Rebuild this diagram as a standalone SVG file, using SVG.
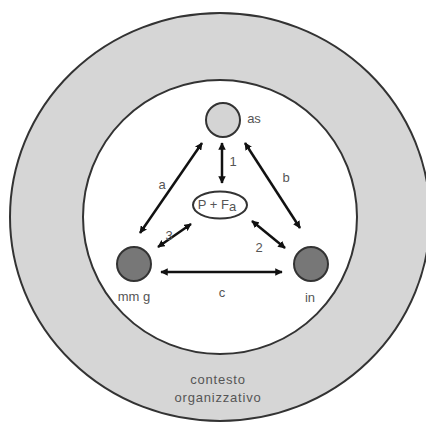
<svg xmlns="http://www.w3.org/2000/svg" width="426" height="422" viewBox="0 0 426 422">
<defs>
<style>
.ring{stroke:#333;stroke-width:2}
.node{stroke:#333;stroke-width:2}
.lbl{font-family:"Liberation Sans",Arial,sans-serif;font-size:13px;fill:#555;text-anchor:middle}
.edge{stroke:#111;stroke-width:2.5;fill:none;marker-start:url(#ah);marker-end:url(#ah)}
</style>
<marker id="ah" viewBox="0 0 10 10" refX="9" refY="5" markerWidth="3" markerHeight="3" orient="auto-start-reverse" markerUnits="strokeWidth">
<path d="M0,0 L10,5 L0,10 z" fill="#111"/>
</marker>
</defs>
<rect width="426" height="422" fill="#fff"/>
<g id="contesto">
<ellipse class="ring" cx="220" cy="217" rx="210" ry="204" fill="#d6d6d6"/>
<circle class="ring" cx="220" cy="217" r="137" fill="#fff"/>
<text class="lbl" x="218" y="384" font-size="14" letter-spacing="0.8">contesto</text>
<text class="lbl" x="218" y="402" font-size="14" letter-spacing="0.8">organizzativo</text>
</g>
<g id="connectors">
<line class="edge" x1="140" y1="233" x2="202" y2="143"/>
<line class="edge" x1="245" y1="143" x2="300" y2="228"/>
<line class="edge" x1="222" y1="143" x2="222" y2="183"/>
<line class="edge" x1="158" y1="247" x2="191" y2="224"/>
<line class="edge" x1="252" y1="221" x2="285" y2="248"/>
<line class="edge" x1="161" y1="272" x2="282" y2="272"/>
<text class="lbl" x="162" y="189">a</text>
<text class="lbl" x="286" y="182">b</text>
<text class="lbl" x="233" y="166">1</text>
<text class="lbl" x="169" y="240">3</text>
<text class="lbl" x="259" y="252">2</text>
<text class="lbl" x="222" y="297">c</text>
</g>
<g id="as">
<circle class="node" cx="223" cy="120" r="17" fill="#d4d4d4"/>
<text class="lbl" x="254" y="123" font-size="12">as</text>
</g>
<g id="pfa">
<ellipse class="node" cx="220" cy="205" rx="27" ry="13.5" fill="#fff"/>
<text class="lbl" x="217" y="209" font-size="10">P + F<tspan dy="2">a</tspan></text>
</g>
<g id="mmg">
<circle class="node" cx="134" cy="264" r="17" fill="#777"/>
<text class="lbl" x="134" y="301" font-size="14">mm g</text>
</g>
<g id="in">
<circle class="node" cx="311" cy="264" r="17" fill="#777"/>
<text class="lbl" x="310" y="302" font-size="14">in</text>
</g>
</svg>
